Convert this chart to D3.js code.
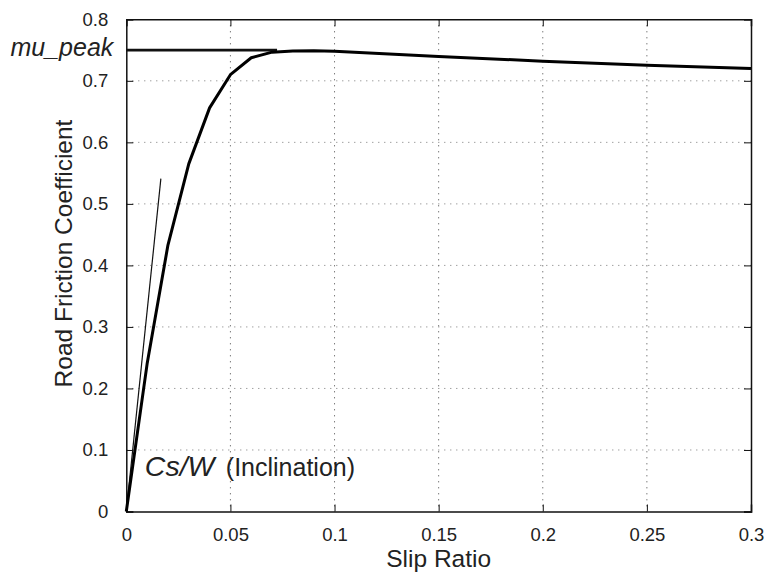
<!DOCTYPE html>
<html>
<head>
<meta charset="utf-8">
<script src="https://cdn.jsdelivr.net/npm/d3@7"></script>
<style>
    html, body { margin: 0; padding: 0; background: #fff; }
    svg text { font-family: "Liberation Sans", Arial, Helvetica, sans-serif; fill: #222; }
</style>
</head>
<body>
<div id="chart"></div>
<script>
// 数据
var slipRatio = [0, 0.01, 0.02, 0.03, 0.04, 0.05, 0.06, 0.07, 0.08, 0.09, 0.1, 0.15, 0.2, 0.25, 0.3];
var frictionCoef = [0, 0.24, 0.433, 0.565, 0.656, 0.71, 0.7375, 0.7466, 0.7485, 0.749, 0.748, 0.7395, 0.732, 0.7255, 0.72];
var muPeak = 0.75;
var muPeakEnd = 0.0724;
var tangentX = [0, 0.0166];
var tangentY = [0, 0.541];
var xTicks = [0, 0.05, 0.1, 0.15, 0.2, 0.25, 0.3];
var yTicks = [0, 0.1, 0.2, 0.3, 0.4, 0.5, 0.6, 0.7, 0.8];

;(function (win) {

    "use strict";

    // 配置
    var _config = {
        width: 770,
        height: 574,
        padding: {left: 126.3, right: 19, top: 19.3, bottom: 62.5},
        tickFont: 18.5,
        labelFont: 24.5
    };

    var _tool = {
        draw: function () {
            var pad = _config.padding,
                w = _config.width - pad.left - pad.right,
                h = _config.height - pad.top - pad.bottom;

            var svg = d3.select('#chart').append('svg')
                .attr('width', _config.width)
                .attr('height', _config.height);

            var g = svg.append('g')
                .attr('transform', 'translate(' + pad.left + ',' + pad.top + ')');

            var x = d3.scaleLinear().domain([0, 0.3]).range([0, w]);
            var y = d3.scaleLinear().domain([0, 0.8]).range([h, 0]);

            // 网格
            g.append('g').selectAll('line')
                .data(xTicks.slice(1, -1))
                .enter().append('line')
                .attr('x1', function (d) { return x(d); })
                .attr('x2', function (d) { return x(d); })
                .attr('y1', 0).attr('y2', h)
                .attr('stroke', '#444')
                .attr('stroke-width', 1)
                .attr('stroke-dasharray', '1,5');

            g.append('g').selectAll('line')
                .data(yTicks.slice(1, -1))
                .enter().append('line')
                .attr('y1', function (d) { return y(d); })
                .attr('y2', function (d) { return y(d); })
                .attr('x1', 0).attr('x2', w)
                .attr('stroke', '#777')
                .attr('stroke-width', 1)
                .attr('stroke-dasharray', '1,5');

            // 坐标轴
            var xAxis = g.append('g')
                .attr('transform', 'translate(0,' + h + ')')
                .call(d3.axisBottom(x).tickValues(xTicks).tickSize(-7).tickPadding(16)
                    .tickFormat(function (d) { return String(d); }));
            var yAxis = g.append('g')
                .call(d3.axisLeft(y).tickValues(yTicks).tickSize(-7).tickPadding(18)
                    .tickFormat(function (d) { return String(d); }));
            var xTop = g.append('g')
                .call(d3.axisTop(x).tickValues(xTicks).tickSize(-7).tickFormat(''));
            var yRight = g.append('g')
                .attr('transform', 'translate(' + w + ',0)')
                .call(d3.axisRight(y).tickValues(yTicks).tickSize(-7).tickFormat(''));

            [xAxis, yAxis, xTop, yRight].forEach(function (a) {
                a.select('.domain').attr('stroke', '#111').attr('stroke-width', 1.5);
                a.selectAll('.tick line').attr('stroke', '#111').attr('stroke-width', 1);
                a.selectAll('text')
                    .style('font-size', _config.tickFont + 'px')
                    .attr('fill', '#222');
            });
            xAxis.selectAll('text').attr('dy', '0.71em');

            // 切线
            var line = d3.line()
                .x(function (d) { return x(d[0]); })
                .y(function (d) { return y(d[1]); });

            g.append('path')
                .datum(d3.zip(tangentX, tangentY))
                .attr('d', line)
                .attr('fill', 'none')
                .attr('stroke', '#111')
                .attr('stroke-width', 1.2);

            // mu_peak 水平线
            g.append('path')
                .datum([[0, muPeak], [muPeakEnd, muPeak]])
                .attr('d', line)
                .attr('fill', 'none')
                .attr('stroke', '#111')
                .attr('stroke-width', 2.8);

            // 摩擦系数曲线
            g.append('path')
                .datum(d3.zip(slipRatio, frictionCoef))
                .attr('d', line)
                .attr('fill', 'none')
                .attr('stroke', '#000')
                .attr('stroke-width', 3)
                .attr('stroke-linejoin', 'round');

            // 文本
            g.append('text')
                .attr('x', -13)
                .attr('y', y(muPeak))
                .attr('dy', '0.22em')
                .attr('text-anchor', 'end')
                .style('font-size', '25px')
                .style('font-style', 'italic')
                .text('mu_peak');

            var ann = g.append('text')
                .attr('x', x(0.0089))
                .attr('y', y(0.057));
            ann.append('tspan')
                .style('font-size', '28.5px')
                .style('font-style', 'italic')
                .text('Cs/W');
            ann.append('tspan')
                .attr('x', x(0.0478))
                .style('font-size', '25px')
                .text('(Inclination)');

            svg.append('text')
                .attr('x', pad.left + w / 2)
                .attr('y', 566.7)
                .attr('text-anchor', 'middle')
                .style('font-size', _config.labelFont + 'px')
                .text('Slip Ratio');

            svg.append('text')
                .attr('transform', 'translate(71.5,253.5) rotate(-90)')
                .attr('text-anchor', 'middle')
                .style('font-size', _config.labelFont + 'px')
                .text('Road Friction Coefficient');
        }
    };

    win.frictionChart = _tool;

})(window);

frictionChart.draw();
</script>
</body>
</html>
